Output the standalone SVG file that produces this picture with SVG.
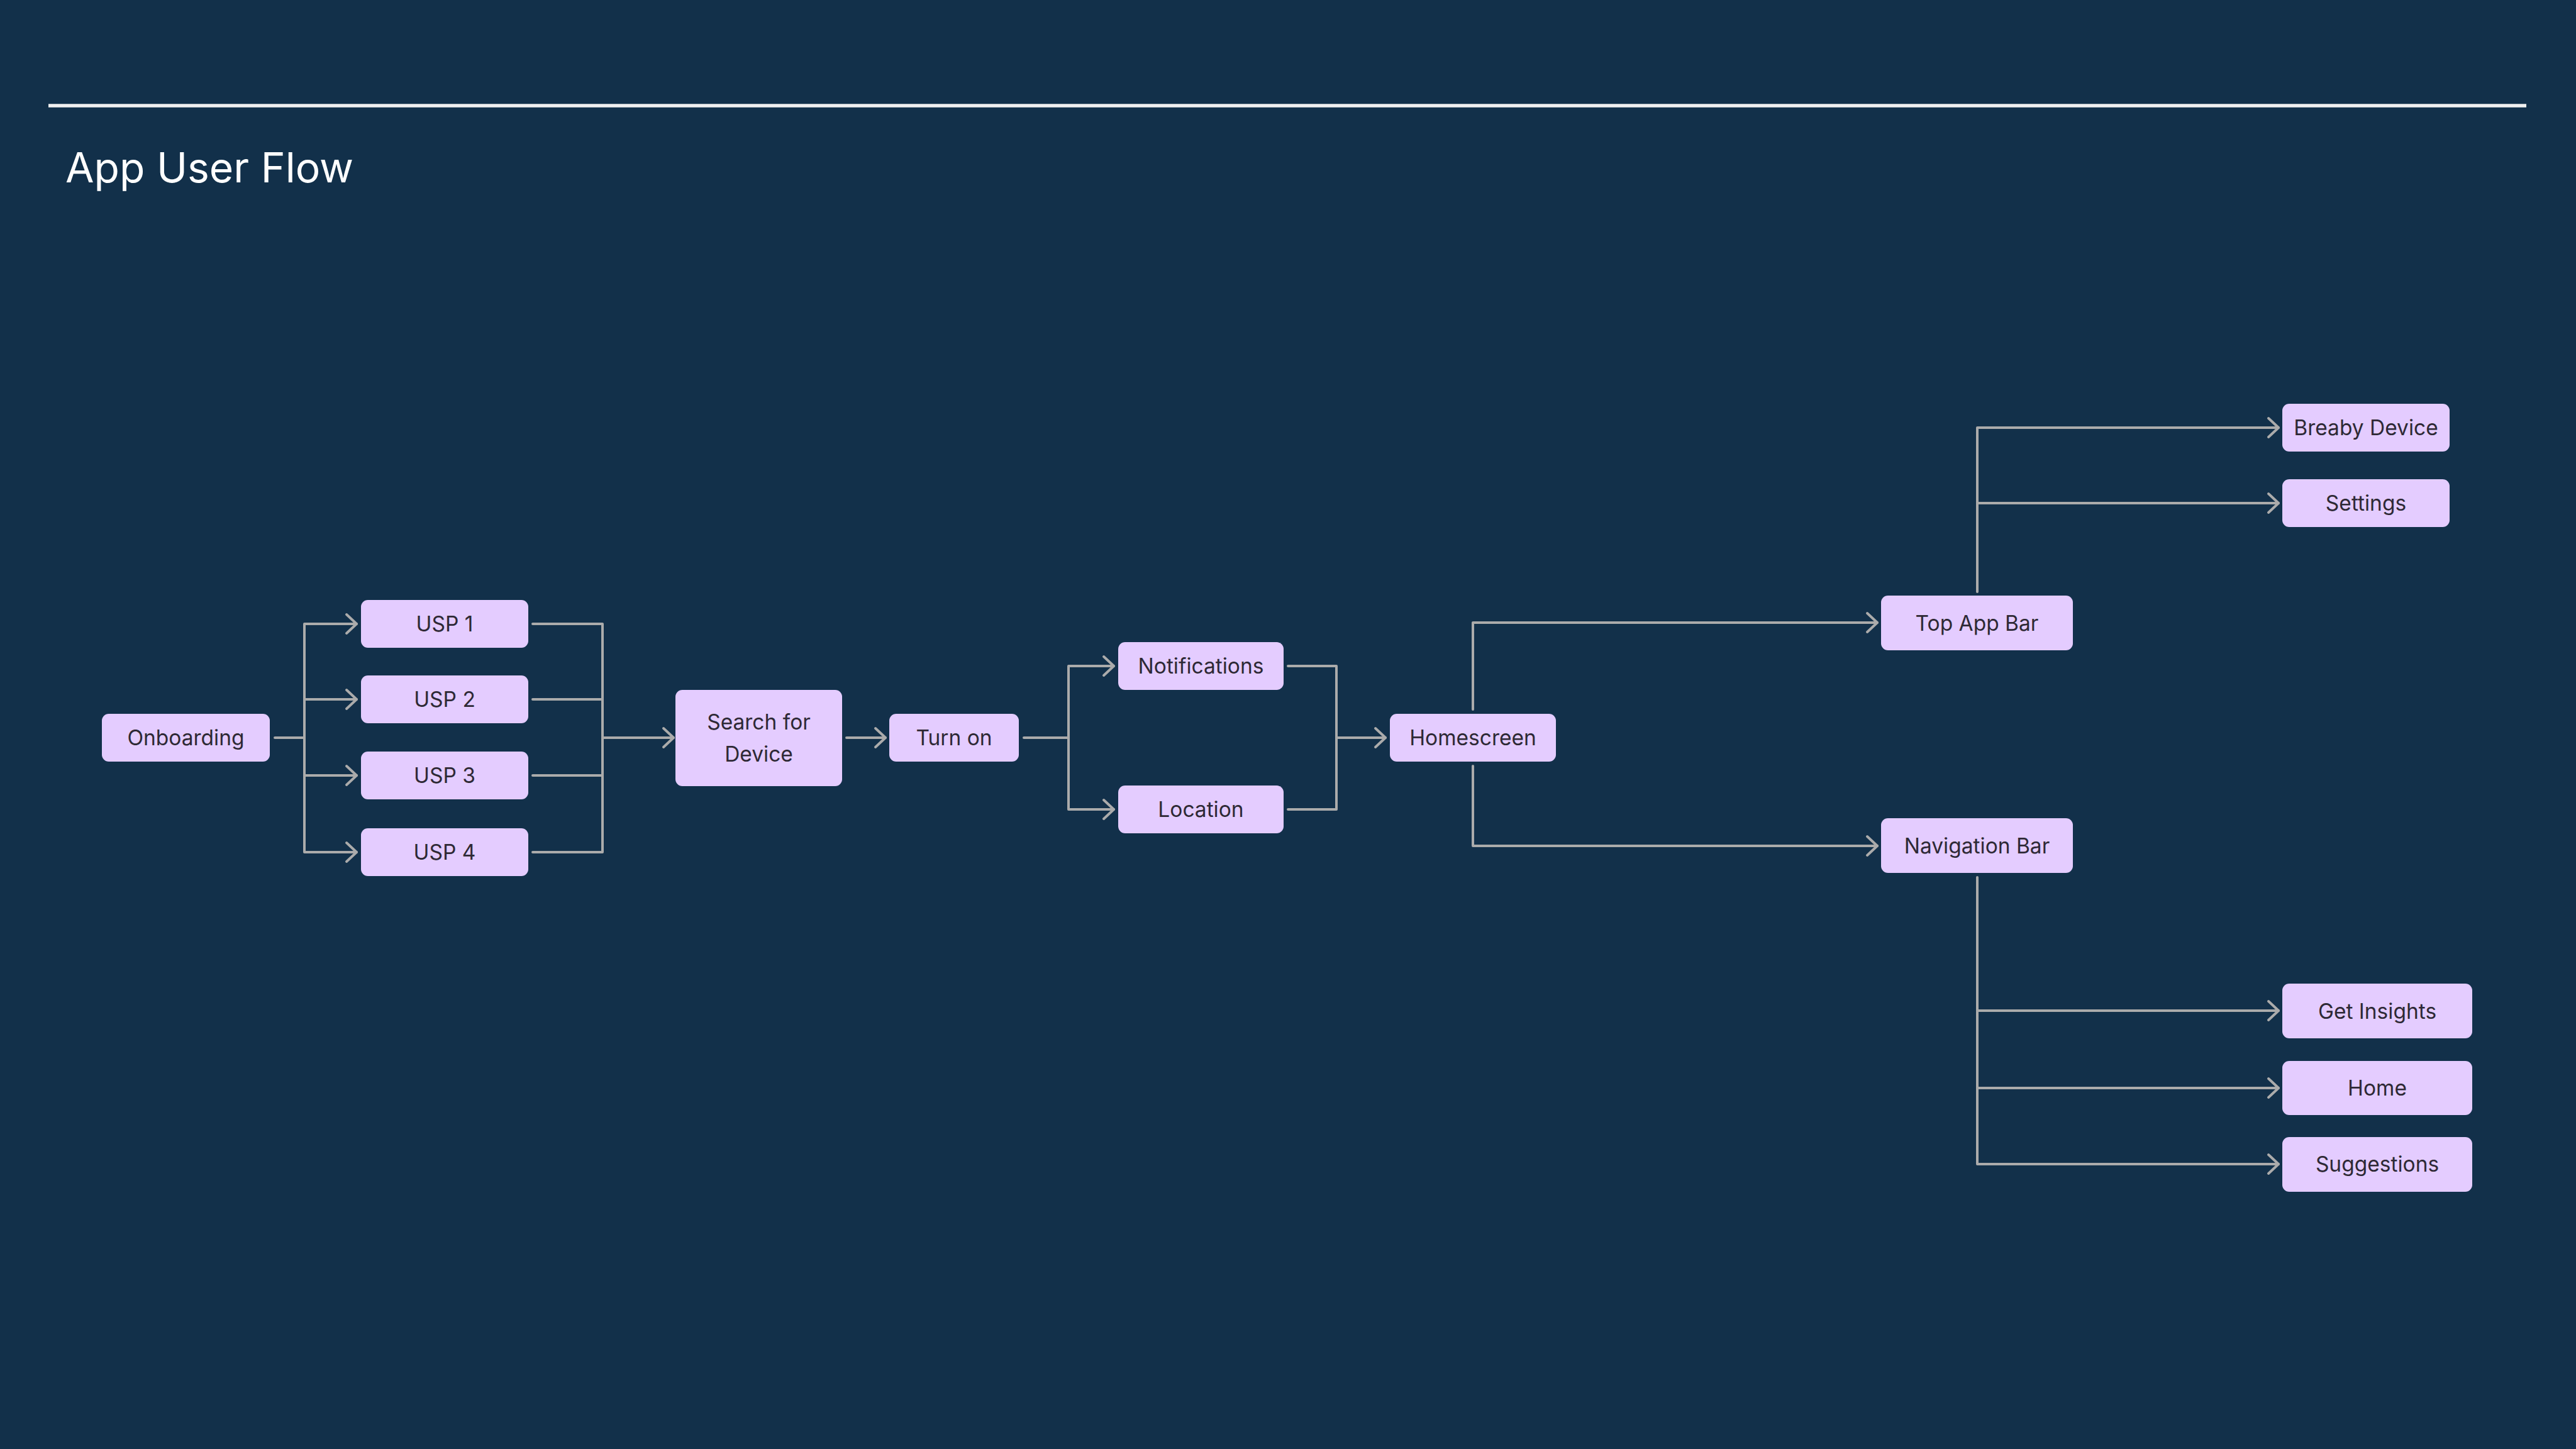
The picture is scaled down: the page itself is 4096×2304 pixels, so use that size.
<svg xmlns="http://www.w3.org/2000/svg" width="4096" height="2304" viewBox="0 0 4096 2304">
<style>
.node rect{fill:#E4CCFF;}
.node text{font-family:Inter,"Noto Sans","Liberation Sans",sans-serif;font-size:33.5px;fill:#2E2935;text-anchor:middle;}
.conn path{fill:none;stroke:#ABABAB;stroke-width:4;stroke-linecap:round;stroke-linejoin:round;}
.title{font-family:Inter,"Noto Sans","Liberation Sans",sans-serif;font-size:66px;fill:#FFFFFF;}
</style>
<defs>
<marker id="arr" markerUnits="userSpaceOnUse" markerWidth="40" markerHeight="40" viewBox="-20 -20 40 40" refX="0" refY="0" orient="auto">
<path d="M-16,-15 L0,0 L-16,15" fill="none" stroke="#ABABAB" stroke-width="4" stroke-linecap="round" stroke-linejoin="round"/>
</marker>
</defs>
<rect x="0" y="0" width="4096" height="2304" fill="#12304A"/>
<line x1="77" y1="168" x2="4017" y2="168" stroke="#F0F0F0" stroke-width="5.3"/>
<text class="title" x="104" y="290">App User Flow</text>

<g id="connectors" class="conn">
<path d="M437,1173 H484 V992 H567" marker-end="url(#arr)"/>
<path d="M484,1173 V1112 H567" marker-end="url(#arr)"/>
<path d="M484,1173 V1233 H567" marker-end="url(#arr)"/>
<path d="M484,1173 V1355 H567" marker-end="url(#arr)"/>
<path d="M847,992 H958 V1355 H847"/>
<path d="M847,1112 H958"/>
<path d="M847,1233 H958"/>
<path d="M958,1173 H1071" marker-end="url(#arr)"/>
<path d="M1346,1173 H1408" marker-end="url(#arr)"/>
<path d="M1628,1173 H1699 V1059 H1771" marker-end="url(#arr)"/>
<path d="M1699,1173 V1287 H1771" marker-end="url(#arr)"/>
<path d="M2048,1059 H2125 V1287 H2048"/>
<path d="M2125,1173 H2203" marker-end="url(#arr)"/>
<path d="M2342,1128 V990 H2985" marker-end="url(#arr)"/>
<path d="M2342,1218 V1345 H2985" marker-end="url(#arr)"/>
<path d="M3144,941 V680 H3623" marker-end="url(#arr)"/>
<path d="M3144,800 H3623" marker-end="url(#arr)"/>
<path d="M3144,1395 V1851 H3623" marker-end="url(#arr)"/>
<path d="M3144,1607 H3623" marker-end="url(#arr)"/>
<path d="M3144,1730 H3623" marker-end="url(#arr)"/>
</g>

<g id="onboarding" class="node"><rect x="162" y="1135" width="267" height="76" rx="11"/><text x="295.5" y="1185">Onboarding</text></g>
<g id="usp1" class="node"><rect x="574" y="954" width="266" height="76" rx="11"/><text x="707" y="1004">USP 1</text></g>
<g id="usp2" class="node"><rect x="574" y="1074" width="266" height="76" rx="11"/><text x="707" y="1124">USP 2</text></g>
<g id="usp3" class="node"><rect x="574" y="1195" width="266" height="76" rx="11"/><text x="707" y="1245">USP 3</text></g>
<g id="usp4" class="node"><rect x="574" y="1317" width="266" height="76" rx="11"/><text x="707" y="1367">USP 4</text></g>
<g id="search" class="node"><rect x="1074" y="1097" width="265" height="153" rx="11"/><text x="1206.5" y="1160">Search for</text><text x="1206.5" y="1211">Device</text></g>
<g id="turnon" class="node"><rect x="1414" y="1135" width="206" height="76" rx="11"/><text x="1517" y="1185">Turn on</text></g>
<g id="notifications" class="node"><rect x="1778" y="1021" width="263" height="76" rx="11"/><text x="1909.5" y="1071">Notifications</text></g>
<g id="location" class="node"><rect x="1778" y="1249" width="263" height="76" rx="11"/><text x="1909.5" y="1299">Location</text></g>
<g id="homescreen" class="node"><rect x="2210" y="1135" width="264" height="76" rx="11"/><text x="2342" y="1185">Homescreen</text></g>
<g id="topappbar" class="node"><rect x="2991" y="947" width="305" height="87" rx="11"/><text x="3143.5" y="1003">Top App Bar</text></g>
<g id="navigationbar" class="node"><rect x="2991" y="1301" width="305" height="87" rx="11"/><text x="3143.5" y="1357">Navigation Bar</text></g>
<g id="breabydevice" class="node"><rect x="3629" y="642" width="266" height="76" rx="11"/><text x="3762" y="692">Breaby Device</text></g>
<g id="settings" class="node"><rect x="3629" y="762" width="266" height="76" rx="11"/><text x="3762" y="812">Settings</text></g>
<g id="getinsights" class="node"><rect x="3629" y="1564" width="302" height="87" rx="11"/><text x="3780" y="1620">Get Insights</text></g>
<g id="home" class="node"><rect x="3629" y="1687" width="302" height="86" rx="11"/><text x="3780" y="1742">Home</text></g>
<g id="suggestions" class="node"><rect x="3629" y="1808" width="302" height="87" rx="11"/><text x="3780" y="1863">Suggestions</text></g>
</svg>
